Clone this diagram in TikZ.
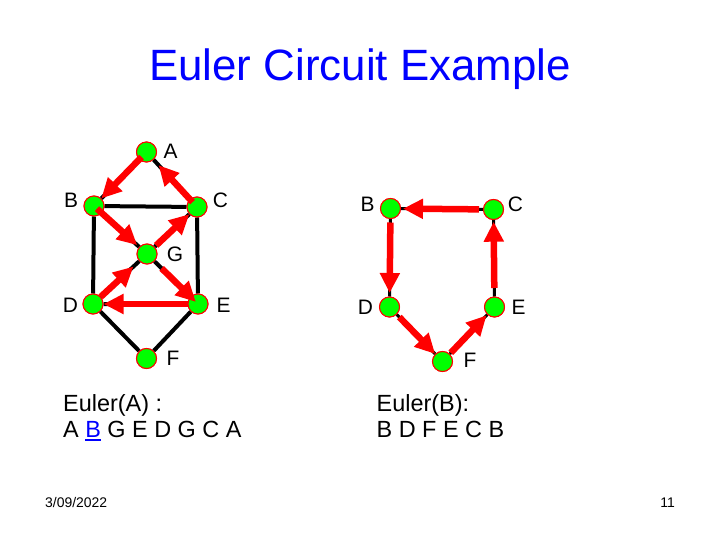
\documentclass[tikz,border=0pt]{standalone}
\usepackage{fontspec}
\setmainfont{Liberation Sans}
\usetikzlibrary{arrows.meta}
\definecolor{ngreen}{RGB}{0,255,0}
\definecolor{nred}{RGB}{255,0,0}
\definecolor{nblue}{RGB}{0,0,255}
\newcommand\ulB{\textcolor{nblue}{\setbox0\hbox{B}\rlap{\rule[-3.5bp]{\wd0}{1.7bp}}\box0}}
\begin{document}
\begin{tikzpicture}[x=1bp,y=-1bp,
  vtx/.style={circle,fill=ngreen,draw=nred,line width=1bp,minimum size=20bp,inner sep=0pt},
  lab/.style={inner sep=0pt,font=\fontsize{21}{25}\selectfont},
  edgeL/.style={draw=black,line width=4bp},
  edgeR/.style={draw=black,line width=3bp},
  ra/.style={draw=nred,line width=6.5bp,-{Triangle[length=20bp,width=19bp]}},
  body/.style={inner sep=0pt,anchor=base west,font=\fontsize{23.5}{27}\selectfont},
  foot/.style={inner sep=0pt,font=\fontsize{14}{16}\selectfont}]
\useasboundingbox (0,0) rectangle (720,540);
\fill[white] (0,0) rectangle (720,540);
% title
\node[inner sep=0pt,anchor=base,text=nblue,font=\fontsize{44}{50}\selectfont] (title) at (360,81) {Euler Circuit Example};
% left graph nodes
\node[vtx] (A) at (146.5,152) {};
\node[vtx] (B) at (94,206) {};
\node[vtx] (C) at (197,207) {};
\node[vtx] (G) at (147,254) {};
\node[vtx] (D) at (93,304) {};
\node[vtx] (E) at (198,304) {};
\node[vtx] (F) at (146.5,358.5) {};
% right graph nodes
\node[vtx] (rB) at (390.5,208.5) {};
\node[vtx] (rC) at (493.5,209.5) {};
\node[vtx] (rD) at (389.5,307) {};
\node[vtx] (rE) at (494.5,307) {};
\node[vtx] (rF) at (442.5,361.5) {};
% black edges
\path[edgeL] (A) -- (B) (A) -- (C) (B) -- (C) (B) -- (D) (B) -- (G) (G) -- (C)
  (G) -- (D) (G) -- (E) (C) -- (E) (D) -- (E) (D) -- (F) (E) -- (F);
\path[edgeR] (rB) -- (rC) (rB) -- (rD) (rD) -- (rF) (rF) -- (rE) (rE) -- (rC);
% redraw nodes over edges
\foreach \n in {A,B,C,G,D,E,F,rB,rC,rD,rE,rF}{
  \node[vtx] at (\n.center) {};
}
% labels
\node[lab] (lA) at (170.5,151) {A};
\node[lab] (lB) at (71,200) {B};
\node[lab] (lC) at (220.5,200.5) {C};
\node[lab] (lG) at (175,254.5) {G};
\node[lab] (lD) at (70.5,305.5) {D};
\node[lab] (lE) at (223.5,305.5) {E};
\node[lab] (lF) at (173,358.5) {F};
\node[lab] (lrB) at (367.5,204.5) {B};
\node[lab] (lrC) at (515.5,204.5) {C};
\node[lab] (lrD) at (365.5,307) {D};
\node[lab] (lrE) at (518.5,307.5) {E};
\node[lab] (lrF) at (470,360.5) {F};
% left red arrows
\draw[ra,shorten <=7bp] (A.center) -- (B);
\draw[ra,shorten <=4bp,shorten >=2.7bp] (B.center) -- (G);
\draw[ra,shorten <=10bp,shorten >=3bp] (G) -- (E.center);
\draw[ra] (E) -- (D);
\draw[ra,shorten >=8bp] (D) -- (G);
\draw[ra,shorten <=2bp] (G) -- (C);
\draw[ra,shorten <=6.6bp,shorten >=7.4bp] (C.center) -- (A);
% right red arrows
\draw[ra,shorten <=4bp,shorten >=2bp] (rC) -- (rB);
\draw[ra,shorten <=3.5bp,shorten >=3.5bp] (rB) -- (rD);
\draw[ra,shorten <=3.5bp] (rD) -- (rF);
\draw[ra,shorten <=1.5bp,shorten >=1bp] (rF) -- (rE);
\draw[ra,shorten <=8.5bp,shorten >=1.7bp] (rE) -- (rC);
% texts
\node[body] (t1) at (63,411.5) {Euler(A) :};
\node[body] (t2) at (63,437) {A \ulB{} G E D G C A};
\node[body] (t3) at (376.5,411.5) {Euler(B):};
\node[body] (t4) at (376.5,437) {B D F E C B};
% footer
\node[foot,anchor=base west] (date) at (45,507) {3/09/2022};
\node[foot,anchor=base east] (pg) at (675,507) {11};
\end{tikzpicture}
\end{document}
